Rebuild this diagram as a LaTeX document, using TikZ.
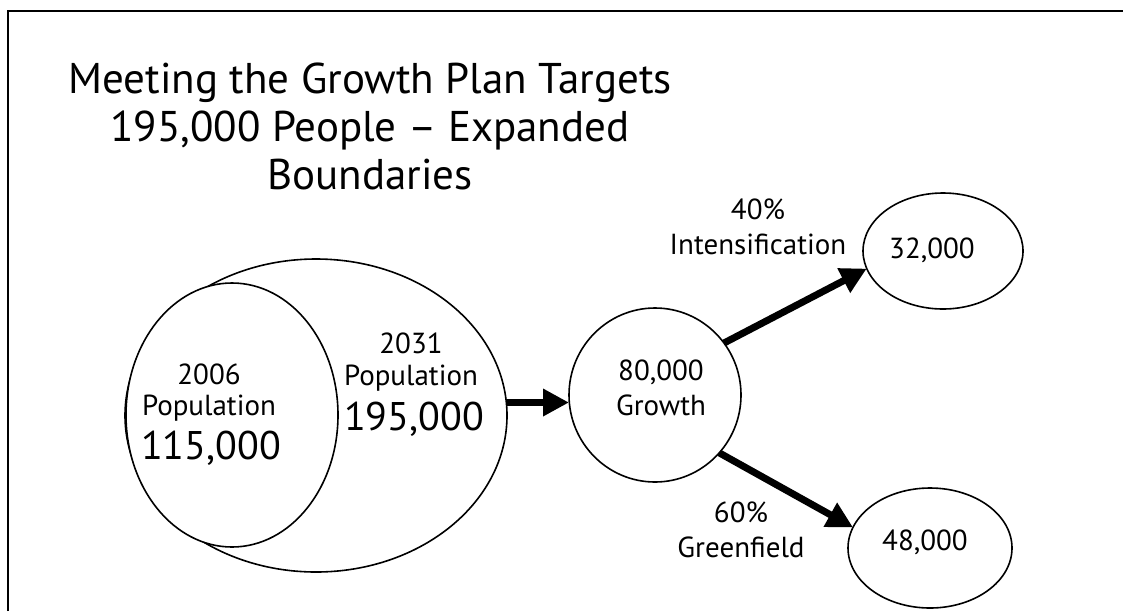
\documentclass[tikz,border=0pt]{standalone}
\usepackage{fontspec}
\setmainfont{PT Sans}
\usetikzlibrary{shapes.geometric,arrows.meta}
\begin{document}
\begin{tikzpicture}[x=1pt,y=-1pt,font=\fontsize{29}{35}\selectfont,
  ring/.style={draw,ellipse,line width=1.6pt,fill=white,inner sep=0pt,outer sep=0pt},
  bignum/.style={font=\fontsize{40}{44}\selectfont},
  flow/.style={line width=7pt,-{Triangle[length=26pt,width=26pt]}}]

\useasboundingbox (0,0) rectangle (1123,611);
\draw[line width=1.6pt] (8,611) -- (8,11) -- (1123,11);

\node[align=center,font=\fontsize{43}{48}\selectfont] (title) at (370,126)
  {Meeting the Growth Plan Targets\\195,000 People -- Expanded\\Boundaries};

% population rings
\node[ring,minimum width=382,minimum height=313] (pop31) at (316,415.5) {};
\node[ring,minimum width=212,minimum height=264] (pop06) at (232,415) {};
\node (yr06) at (209,374) {2006};
\node (txt06) at (209,408) {Population};
\node[bignum] (num06) at (211,448) {115,000};
\node (yr31) at (411,343) {2031};
\node (txt31) at (411,378) {Population};
\node[bignum] (num31) at (414,419) {195,000};

% growth split
\node[ring,minimum width=172,minimum height=174] (grow) at (655,395) {};
\node[align=center] (growtxt) at (661,388) {80,000\\Growth};
\node[ring,minimum width=160,minimum height=116] (ell32) at (943,251) {};
\node (num32) at (932,250) {32,000};
\node[ring,minimum width=164,minimum height=120] (ell48) at (930,548) {};
\node (num48) at (925,542) {48,000};
\node[align=center] (intens) at (758,227) {40\%\\Intensification};
\node[align=center] (green) at (741,530) {60\%\\Greenfield};

\draw[flow] ([yshift=13pt]pop31.east) -- ([yshift=13pt]pop31.east -| grow.west);
\draw[flow] (grow.37) -- (ell32.193);
\draw[flow] (grow.-42) -- (ell48.165);

\end{tikzpicture}
\end{document}
